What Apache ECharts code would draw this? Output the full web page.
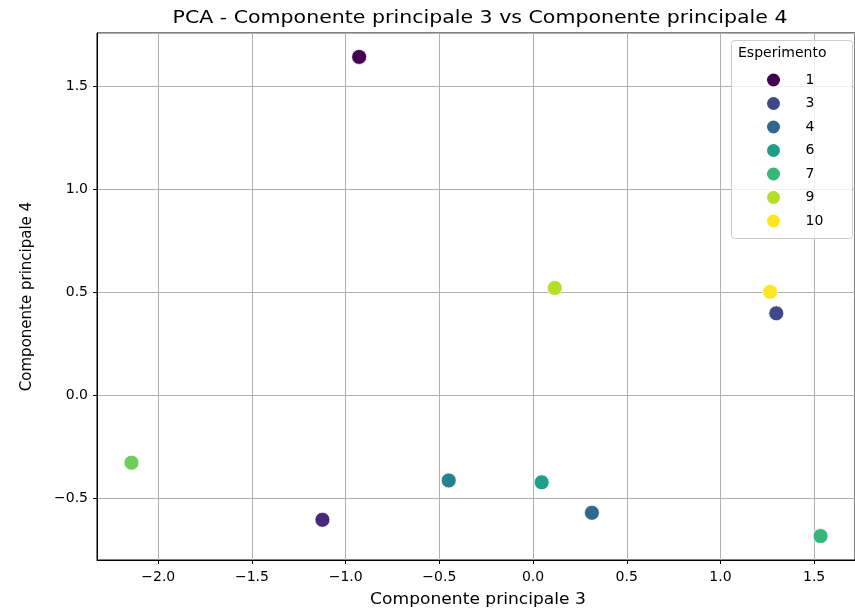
<!DOCTYPE html>
<html>
<head>
<meta charset="utf-8">
<script src="https://cdn.jsdelivr.net/npm/echarts@6/dist/echarts.min.js"></script>
<style>
html,body{margin:0;padding:0;background:#fff;}
#chart{width:855px;height:613px;}
</style>
</head>
<body>
<div id="chart"></div>
<script>
// Data
const experiments = [1, 2, 3, 4, 5, 6, 7, 8, 9, 10];
const pc3 = [-0.928, -1.124, 1.298, 0.314, -0.450, 0.046, 1.534, -2.143, 0.116, 1.265];
const pc4 = [1.641, -0.605, 0.397, -0.571, -0.414, -0.423, -0.684, -0.328, 0.520, 0.501];
const colors = ['#440154', '#482878', '#3e4989', '#31688e', '#26828e', '#1f9e89', '#35b779', '#6ece58', '#b5de2b', '#fde725'];
const legendShown = ['1', '3', '4', '6', '7', '9', '10'];
const titleText = 'PCA - Componente principale 3 vs Componente principale 4';
const xName = 'Componente principale 3';
const yName = 'Componente principale 4';
const legendTitle = 'Esperimento';

const FONT = 'DejaVu Sans';
const chart = echarts.init(document.getElementById('chart'), null, {renderer: 'canvas'});

const series = experiments.map((e, i) => ({
  name: String(e),
  type: 'scatter',
  data: [[pc3[i], pc4[i]]],
  symbol: 'circle',
  symbolSize: 15,
  itemStyle: {color: colors[i], borderColor: '#ffffff', borderWidth: 0.8, opacity: 1},
  emphasis: {disabled: true},
  z: 3
}));

const fmt = v => v.toFixed(1).replace('-', '\u2212');

chart.setOption({
  animation: false,
  backgroundColor: '#ffffff',
  textStyle: {fontFamily: FONT},
  grid: {left: 97, right: -5, top: 33, bottom: 53, containLabel: false, show: true, borderColor: '#000', borderWidth: 1},
  xAxis: {
    type: 'value',
    min: -2.327, max: 1.718,
    minInterval: 0.5, maxInterval: 0.5,
    axisLine: {show: true, onZero: false, lineStyle: {color: '#000', width: 1}},
    axisTick: {show: true, length: 4, lineStyle: {color: '#000'}},
    axisLabel: {fontFamily: FONT, fontSize: 14, color: '#000', margin: 10, showMinLabel: false, showMaxLabel: false, formatter: fmt},
    splitLine: {show: true, lineStyle: {color: '#b0b0b0', width: 1}}
  },
  yAxis: {
    type: 'value',
    min: -0.800, max: 1.757,
    minInterval: 0.5, maxInterval: 0.5,
    name: yName, nameLocation: 'middle', nameGap: 62, nameRotate: 90,
    nameTextStyle: {fontFamily: FONT, fontSize: 15, color: '#000'},
    axisLine: {show: true, onZero: false, lineStyle: {color: '#000', width: 1}},
    axisTick: {show: true, length: 4, lineStyle: {color: '#000'}},
    axisLabel: {fontFamily: FONT, fontSize: 14, color: '#000', margin: 9, showMinLabel: false, showMaxLabel: false, formatter: fmt},
    splitLine: {show: true, lineStyle: {color: '#b0b0b0', width: 1}}
  },
  legend: {
    data: legendShown,
    orient: 'vertical',
    left: 760, top: 66.5,
    itemWidth: 54, itemHeight: 15, itemGap: 6.5,
    icon: 'circle',
    textStyle: {fontFamily: FONT, fontSize: 14, color: '#000'},
    selectedMode: false,
    z: 5
  },
  graphic: [
    {
      type: 'text', silent: true, z: 5,
      x: 480, y: 18, scaleX: 1.14,
      style: {text: titleText, font: '18px "DejaVu Sans"', fill: '#000', textAlign: 'center', textVerticalAlign: 'middle'}
    },
    {
      type: 'text', silent: true, z: 5,
      x: 478, y: 600, scaleX: 1.14,
      style: {text: xName, font: '15px "DejaVu Sans"', fill: '#000', textAlign: 'center', textVerticalAlign: 'middle'}
    },
    {
      type: 'rect', z: 4, silent: true,
      shape: {x: 731.5, y: 40.5, width: 121, height: 198, r: 3},
      style: {fill: 'rgba(255,255,255,0.8)', stroke: '#cccccc', lineWidth: 1}
    },
    {
      type: 'text', z: 5, silent: true,
      left: 738, top: 46,
      style: {text: legendTitle, font: '14px "DejaVu Sans"', fill: '#000'}
    }
  ],
  series: series
});
</script>
</body>
</html>
